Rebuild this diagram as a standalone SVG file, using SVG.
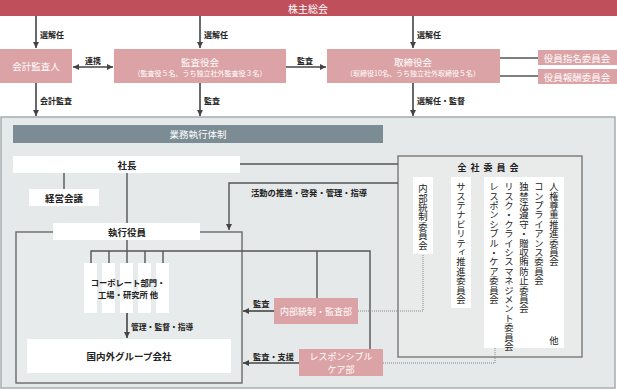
<svg xmlns="http://www.w3.org/2000/svg" width="617" height="390" viewBox="0 0 617 390">
<defs>
<marker id="ah" markerUnits="userSpaceOnUse" markerWidth="7" markerHeight="7" refX="6" refY="3" orient="auto-start-reverse">
<path d="M0,0 L6,3 L0,6 z" fill="#444"/>
</marker>
<style>
text{font-family:"Noto Sans CJK JP","Noto Sans",sans-serif;}
.w{fill:#fff;text-anchor:middle;dominant-baseline:central;}
.d{fill:#222;dominant-baseline:central;font-weight:bold;}
.c{text-anchor:middle;}
.pink{fill:#dca3a6;}
.white{fill:#fff;}
.ln{stroke:#555;stroke-width:1.4;fill:none;}
.ar{stroke:#444;stroke-width:1.6;fill:none;marker-end:url(#ah);}
.dot{stroke:#888;stroke-width:1;stroke-dasharray:1 1;fill:none;}
.v{writing-mode:vertical-rl;font-size:9.4px;fill:#222;}
</style>
</defs>

<!-- background panel -->
<rect x="1" y="117" width="614" height="271" fill="#e5e9e9" stroke="#a7acae" stroke-width="1.5"/>

<g id="shareholders">
<rect x="0" y="0" width="617" height="16" fill="#bf4f5b"/>
<text x="308" y="8" class="w" font-size="10">株主総会</text>
</g>

<g id="auditor">
<rect x="0" y="49" width="72" height="34" class="pink"/>
<text x="36" y="66" class="w" font-size="9.5">会計監査人</text>
</g>

<g id="kansayakukai">
<rect x="114" y="49" width="172" height="34" class="pink"/>
<text x="200" y="62" class="w" font-size="9.5">監査役会</text>
<text x="200" y="73" class="w" font-size="7">（監査役５名、うち独立社外監査役３名）</text>
</g>

<g id="torishimariyakukai">
<rect x="327" y="49" width="173" height="34" class="pink"/>
<text x="413" y="62" class="w" font-size="9.5">取締役会</text>
<text x="413" y="73" class="w" font-size="7">（取締役10名、うち独立社外取締役５名）</text>
</g>

<g id="nomination">
<rect x="538" y="50" width="79" height="15" class="pink"/>
<text x="577" y="57.5" class="w" font-size="9.5">役員指名委員会</text>
</g>
<g id="remuneration">
<rect x="538" y="69" width="79" height="15" class="pink"/>
<text x="577" y="76.5" class="w" font-size="9.5">役員報酬委員会</text>
</g>

<g id="gyomu-bar">
<rect x="13" y="125" width="370" height="18" fill="#7c8c95"/>
<text x="198" y="134" class="w" font-size="9.5">業務執行体制</text>
</g>

<g id="exec-frame">
<rect x="16" y="232" width="226" height="151" fill="#e8ebeb" stroke="#6a6a6a" stroke-width="1.4"/>
</g>

<g id="committee-frame">
<rect x="398" y="156" width="184" height="201" fill="#e9ebeb" stroke="#808080" stroke-width="1.5"/>
<text x="490" y="167" class="d c" font-size="9" letter-spacing="4" text-anchor="middle">全社委員会</text>
</g>

<g id="connectors">
<line x1="36" y1="16" x2="36" y2="48" class="ar"/>
<line x1="200" y1="16" x2="200" y2="48" class="ar"/>
<line x1="413" y1="16" x2="413" y2="48" class="ar"/>
<line x1="36" y1="83" x2="36" y2="116" class="ar"/>
<line x1="200" y1="83" x2="200" y2="116" class="ar"/>
<line x1="413" y1="83" x2="413" y2="116" class="ar"/>
<line x1="73" y1="67" x2="113" y2="67" class="ar" marker-start="url(#ah)"/>
<line x1="286" y1="67" x2="326" y2="67" class="ar"/>
<line x1="500" y1="58" x2="538" y2="58" class="ln"/>
<line x1="500" y1="76" x2="538" y2="76" class="ln"/>
<line x1="240" y1="164" x2="398" y2="164" class="ln"/>
<polyline points="398,183 229,183 229,230" class="ln" marker-end="url(#ah)"/>
<line x1="64" y1="173" x2="64" y2="189" class="ln"/>
<line x1="127" y1="173" x2="127" y2="263" class="ln"/>
<polyline points="91,263 91,251 370,251 370,349" class="ln"/>
<line x1="109" y1="251" x2="109" y2="263" class="ln"/>
<line x1="145" y1="251" x2="145" y2="263" class="ln"/>
<line x1="163" y1="251" x2="163" y2="263" class="ln"/>
<line x1="317" y1="251" x2="317" y2="298" class="ln"/>
<line x1="127" y1="313" x2="127" y2="338" class="ar"/>
<line x1="274" y1="311" x2="243" y2="311" class="ar"/>
<line x1="299" y1="363" x2="243" y2="363" class="ar"/>
<polyline points="358,311 423,311 423,254" class="dot"/>
<polyline points="383,363 495,363 495,301" class="dot"/>
</g>

<g id="labels">
<text x="40" y="34" class="d" font-size="8">選解任</text>
<text x="204" y="34" class="d" font-size="8">選解任</text>
<text x="417" y="34" class="d" font-size="8">選解任</text>
<text x="40" y="100" class="d" font-size="8">会計監査</text>
<text x="204" y="100" class="d" font-size="8">監査</text>
<text x="417" y="100" class="d" font-size="8">選解任・監督</text>
<text x="85" y="60" class="d" font-size="8">連携</text>
<text x="297" y="60" class="d" font-size="8">監査</text>
<text x="251" y="192" class="d" font-size="8.3">活動の推進・啓発・管理・指導</text>
<text x="131" y="326" class="d" font-size="7.8">管理・監督・指導</text>
<text x="253" y="303" class="d" font-size="8.3">監査</text>
<text x="253" y="356" class="d" font-size="8.2">監査・支援</text>
</g>

<g id="president">
<rect x="13" y="156" width="227" height="17" class="white"/>
<text x="127" y="164.5" class="d c" font-size="9.5" text-anchor="middle">社長</text>
</g>

<g id="keiei-kaigi">
<rect x="29" y="189" width="70" height="17" class="white"/>
<text x="64" y="197.5" class="d" font-size="9.5" text-anchor="middle">経営会議</text>
</g>

<g id="shikko-yakuin">
<rect x="53" y="223" width="147" height="17" class="white"/>
<text x="127" y="231.5" class="d" font-size="9.5" text-anchor="middle">執行役員</text>
</g>

<g id="departments">
<rect x="84" y="263" width="13" height="50" class="white"/>
<rect x="102" y="263" width="13" height="50" class="white"/>
<rect x="120" y="263" width="13" height="50" class="white"/>
<rect x="138" y="263" width="13" height="50" class="white"/>
<rect x="156" y="263" width="13" height="50" class="white"/>
<text x="128" y="282" class="d" font-size="8.3" text-anchor="middle">コーポレート部門・</text>
<text x="128" y="294" class="d" font-size="8.3" text-anchor="middle">工場・研究所 他</text>
</g>

<g id="group-companies">
<rect x="27" y="339" width="204" height="34" class="white"/>
<text x="129" y="356" class="d" font-size="9.5" text-anchor="middle">国内外グループ会社</text>
</g>

<g id="internal-audit">
<rect x="274" y="298" width="84" height="26" class="pink"/>
<text x="316" y="311" class="w" font-size="9">内部統制・監査部</text>
</g>

<g id="rc-dept">
<rect x="299" y="349" width="84" height="27" class="pink"/>
<text x="341" y="356" class="w" font-size="9">レスポンシブル</text>
<text x="341" y="369" class="w" font-size="9">ケア部</text>
</g>

<g id="internal-control-committee">
<rect x="413" y="177" width="20" height="77" class="white"/>
<text x="423" y="184" class="v">内部統制委員会</text>
</g>

<g id="sustainability-committee">
<rect x="451" y="177" width="20" height="131" class="white"/>
<text x="461" y="182" class="v">サステナビリティ推進委員会</text>
</g>

<g id="other-committees">
<rect x="484" y="177" width="80" height="171" class="white"/>
<text x="554" y="182" class="v">人権尊重推進委員会</text>
<text x="539" y="182" class="v">コンプライアンス委員会</text>
<text x="524" y="182" class="v">独禁法遵守・贈収賄防止委員会</text>
<text x="509" y="182" class="v">リスク・クライシスマネジメント委員会</text>
<text x="494" y="182" class="v">レスポンシブル・ケア委員会</text>
<text x="554" y="340" font-size="9.4" text-anchor="middle" dominant-baseline="central" fill="#222">他</text>
</g>
</svg>
